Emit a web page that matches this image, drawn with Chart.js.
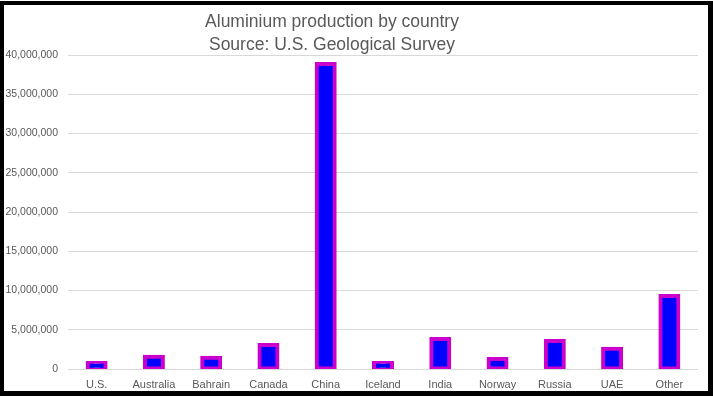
<!DOCTYPE html>
<html><head><meta charset="utf-8">
<script src="https://cdn.jsdelivr.net/npm/chart.js@4"></script>
<style>
html,body{margin:0;padding:0;background:#fff;}
#frame{position:absolute;left:0;top:1px;width:704px;height:386px;border-style:solid;border-color:#000;border-width:4px 5px 5px 4px;background:#fff;}
canvas{display:block;}
</style></head><body>
<div id="frame"><canvas id="c" width="704" height="386"></canvas></div>
<script>
const categories = ['U.S.','Australia','Bahrain','Canada','China','Iceland','India','Norway','Russia','UAE','Other'];
const production = [780000,1560000,1430000,3050000,38850000,780000,3820000,1270000,3560000,2590000,9300000];
const titleLines = ['Aluminium production by country','Source: U.S. Geological Survey'];
const yMax = 40000000;
const yStep = 5000000;

const grey = '#595959';
const titleShift = {
  id: 'titleShift',
  afterLayout(chart) {
    const t = chart.titleBlock;
    if (t) { t.left = 0; t.right = 656; }
  }
};

new Chart(document.getElementById('c'), {
  type: 'bar',
  data: {
    labels: categories,
    datasets: [{
      label: 'Production',
      data: production,
      backgroundColor: '#0000FF',
      borderColor: '#CC00CC',
      borderWidth: 4,
      borderSkipped: false,
      inflateAmount: 2,
      categoryPercentage: 1,
      barPercentage: 0.314,
      clip: {left: false, top: false, right: false, bottom: 0}
    }]
  },
  options: {
    responsive: false,
    devicePixelRatio: 1,
    animation: false,
    layout: { padding: { left: 0, right: 10, top: 0, bottom: 0 } },
    plugins: {
      legend: { display: false },
      tooltip: { enabled: false },
      title: {
        display: true,
        text: titleLines,
        color: grey,
        font: { family: 'Liberation Sans', size: 17.5, weight: 'normal', lineHeight: 23/17.5 },
        padding: { top: 6, bottom: -2 }
      }
    },
    scales: {
      x: {
        grid: { display: false, drawTicks: false },
        border: { display: false },
        ticks: { color: grey, font: { family: 'Liberation Sans', size: 11 }, padding: 9, maxRotation: 0, autoSkip: false },
        afterFit(s) { s.height = 22; }
      },
      y: {
        min: 0,
        max: yMax,
        grid: { color: '#d9d9d9', lineWidth: 1, drawTicks: false },
        border: { display: false },
        ticks: {
          stepSize: yStep,
          color: grey,
          font: { family: 'Liberation Sans', size: 10.5 },
          padding: 10,
          callback: v => Number(v).toLocaleString('en-US')
        },
        afterFit(s) { s.width = 64; }
      }
    }
  },
  plugins: [titleShift]
});
</script>
</body></html>
